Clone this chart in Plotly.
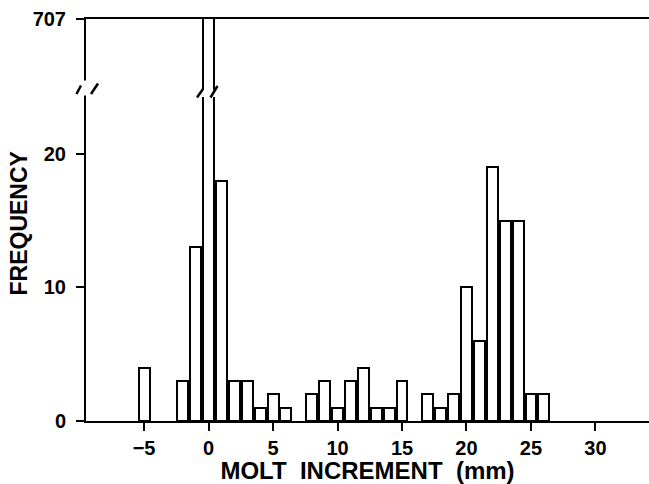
import plotly.graph_objects as go

# ---- data ----
increment = [-5, -2, -1, 0, 1, 2, 3, 4, 5, 6, 8, 9, 10, 11, 12, 13, 14, 15,
             17, 18, 19, 20, 21, 22, 23, 24, 25, 26]
frequency = [4, 3, 13, 707, 18, 3, 3, 1, 2, 1, 2, 3, 1, 3, 4, 1, 1, 3,
             2, 1, 2, 10, 6, 19, 15, 15, 2, 2]
y_ticks = [0, 10, 20]
x_ticks = [-5, 0, 5, 10, 15, 20, 25, 30]

# ---- layout constants ----
W, H = 649, 484
ML, MR, MT, MB = 86, 0, 19, 63
X_RANGE = [-9.5, 34.15]
Y_TOP = 30.1          # broken axis: top of the frame stands for the maximum count

FONT = "Arial, 'Liberation Sans', Helvetica, sans-serif"


def px_x(p):
    return (p - ML) / (W - ML - MR)


def px_y(p):
    return (H - MB - p) / (H - MT - MB)


fig = go.Figure()
fig.add_trace(go.Bar(
    x=increment, y=frequency, width=0.85,
    marker=dict(color="white", line=dict(color="black", width=2)),
    showlegend=False, hoverinfo="x+y",
))

tickvals = y_ticks + [Y_TOP]
ticktext = [str(v) for v in y_ticks] + [str(max(frequency))]

axis_common = dict(
    showline=True, linecolor="black", linewidth=2,
    ticks="outside", ticklen=8, tickwidth=2, tickcolor="black",
    showgrid=False, zeroline=False,
    tickfont=dict(family=FONT, size=20, color="black", weight="bold"),
)

fig.update_layout(
    width=W, height=H,
    margin=dict(l=ML, r=MR, t=MT, b=MB, pad=0),
    paper_bgcolor="white", plot_bgcolor="white",
    bargap=0,
    xaxis=dict(range=X_RANGE, tickvals=x_ticks, mirror=True,
               title=dict(text="MOLT  INCREMENT  (mm)", standoff=0,
                          font=dict(family=FONT, size=24, color="black", weight="bold")),
               **axis_common),
    yaxis=dict(range=[0, Y_TOP], tickvals=tickvals, ticktext=ticktext,
               ticklabelstandoff=6, **axis_common),
    annotations=[dict(text="FREQUENCY", textangle=-90, showarrow=False,
                      xref="paper", yref="paper", x=px_x(18.5), y=px_y(224),
                      xanchor="center", yanchor="middle",
                      font=dict(family=FONT, size=23, color="black", weight="bold"))],
)

shapes = []
# gap in the y axis line
shapes.append(dict(type="rect", xref="paper", yref="paper",
                   x0=px_x(83), x1=px_x(90), y0=px_y(95.5), y1=px_y(80.5),
                   fillcolor="white", line=dict(width=0), layer="above"))
# gap in the tall bar at 0
shapes.append(dict(type="rect", xref="paper", yref="paper",
                   x0=px_x(200), x1=px_x(216), y0=px_y(97), y1=px_y(90),
                   fillcolor="white", line=dict(width=0), layer="above"))
# break slashes
for (xa, ya, xb, yb) in [(76.5, 94, 81, 85.5), (91, 94, 98, 83.5),
                         (197, 97.5, 203, 89), (210.5, 97.5, 217.5, 86)]:
    shapes.append(dict(type="line", xref="paper", yref="paper",
                       x0=px_x(xa), y0=px_y(ya), x1=px_x(xb), y1=px_y(yb),
                       line=dict(color="black", width=2.5), layer="above"))
fig.update_layout(shapes=shapes)

fig.write_html("out.html")
